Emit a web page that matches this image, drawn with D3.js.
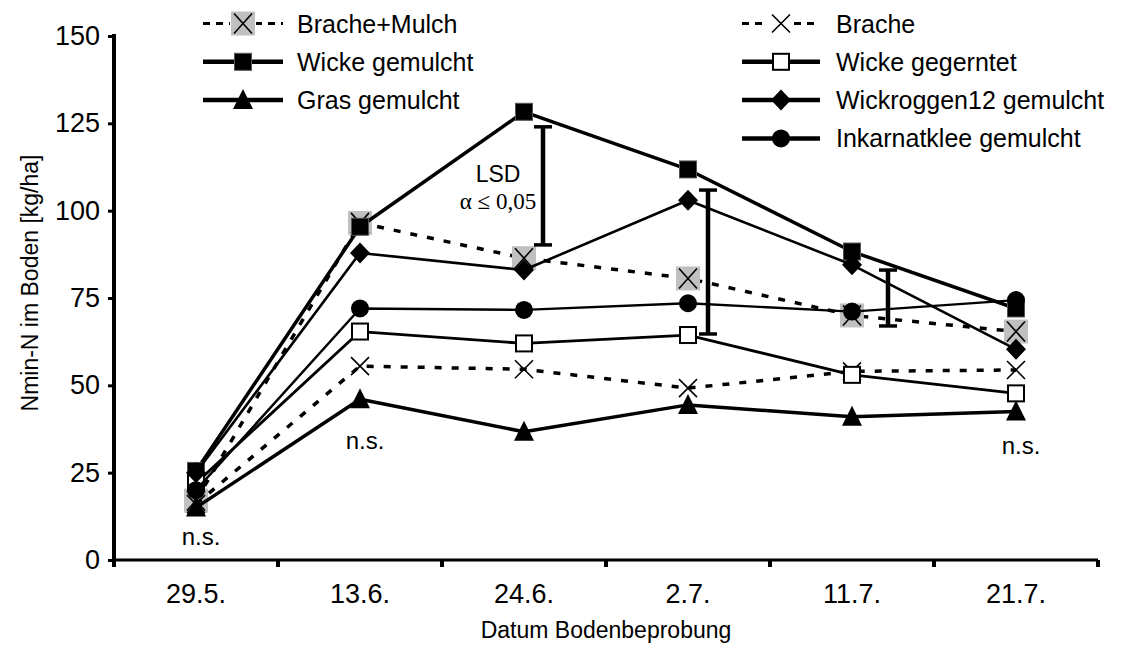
<!DOCTYPE html>
<html>
<head>
<meta charset="utf-8">
<script src="https://cdn.jsdelivr.net/npm/d3@7"></script>
<style>
  html, body { margin: 0; padding: 0; background: #fff; }
  svg { display: block; font-family: "Liberation Sans", Arial, sans-serif; }
</style>
</head>
<body>
<svg id="chart" width="1126" height="659"></svg>
<script>
// ---------- data ----------
const dates = ["29.5.", "13.6.", "24.6.", "2.7.", "11.7.", "21.7."];
const yTicks = [0, 25, 50, 75, 100, 125, 150];

const bracheMulch   = [17, 96.5, 86.4, 80.6, 70, 65.4];
const brache        = [16, 55.5, 54.6, 49.2, 54, 54.4];
const wickeMulch    = [25.5, 95.4, 128.3, 111.8, 88.3, 72];
const wickeErnte    = [22, 65.4, 62, 64.4, 53, 47.7];
const grasMulch     = [15, 46, 36.7, 44.4, 41, 42.5];
const wickroggen    = [25, 87.9, 83, 103, 84.5, 60.3];
const inkarnatklee  = [20, 72, 71.6, 73.5, 71.1, 74.4];

const seriesNames = ["Brache+Mulch", "Brache", "Wicke gemulcht", "Wicke gegerntet",
                     "Gras gemulcht", "Wickroggen12 gemulcht", "Inkarnatklee gemulcht"];

// LSD (alpha <= 0.05) bars: date, low, high
const lsdDates = ["24.6.", "2.7.", "11.7."];
const lsdLow   = [90.2, 64.7, 67];
const lsdHigh  = [124, 105.9, 83];
const nsDates  = ["29.5.", "13.6.", "21.7."];

// ---------- layout ----------
const svg = d3.select("#chart");
const X0 = 114, X1 = 1098, Y0 = 560, Y1 = 36;

const x = d3.scaleBand().domain(dates).range([X0, X1]);
const cx = d => x(d) + x.bandwidth() / 2;
const y = d3.scaleLinear().domain([0, 150]).range([Y0, Y1]);

const styles = {
  "Brache+Mulch":          {data: bracheMulch, dash: "7,10", w: 3.5, marker: "grayx"},
  "Brache":                {data: brache,      dash: "7,10", w: 3.5, marker: "x"},
  "Wicke gemulcht":        {data: wickeMulch,  dash: null,   w: 3.5, marker: "square"},
  "Wicke gegerntet":       {data: wickeErnte,  dash: null,   w: 2.8, marker: "opensquare"},
  "Gras gemulcht":         {data: grasMulch,   dash: null,   w: 3.5, marker: "triangle"},
  "Wickroggen12 gemulcht": {data: wickroggen,  dash: null,   w: 2.6, marker: "diamond"},
  "Inkarnatklee gemulcht": {data: inkarnatklee,dash: null,   w: 2.4, marker: "circle"}
};

function drawMarker(g, type, px, py) {
  if (type === "square") {
    g.append("rect").attr("x", px - 8.5).attr("y", py - 8.5).attr("width", 17).attr("height", 17)
      .attr("fill", "#000").attr("stroke", "#555").attr("stroke-width", 1);
  } else if (type === "opensquare") {
    g.append("rect").attr("x", px - 8).attr("y", py - 8).attr("width", 16).attr("height", 16)
      .attr("fill", "#fff").attr("stroke", "#000").attr("stroke-width", 2);
  } else if (type === "triangle") {
    g.append("path").attr("d", `M${px},${py - 11} L${px + 10},${py + 9} L${px - 10},${py + 9} Z`)
      .attr("fill", "#000");
  } else if (type === "diamond") {
    g.append("path").attr("d", `M${px},${py - 10.5} L${px + 10},${py} L${px},${py + 10.5} L${px - 10},${py} Z`)
      .attr("fill", "#000");
  } else if (type === "circle") {
    g.append("circle").attr("cx", px).attr("cy", py).attr("r", 9).attr("fill", "#000");
  } else if (type === "x") {
    g.append("path").attr("d", `M${px - 9},${py - 9} L${px + 9},${py + 9} M${px + 9},${py - 9} L${px - 9},${py + 9}`)
      .attr("stroke", "#000").attr("stroke-width", 1.6).attr("fill", "none");
  } else if (type === "grayx") {
    g.append("rect").attr("x", px - 12).attr("y", py - 12).attr("width", 24).attr("height", 24)
      .attr("fill", "#c0c0c0");
    g.append("path").attr("d", `M${px - 9},${py - 10} L${px + 9},${py + 10} M${px + 9},${py - 10} L${px - 9},${py + 10}`)
      .attr("stroke", "#000").attr("stroke-width", 1.6).attr("fill", "none");
  }
}

// ---------- series ----------
const line = d3.line().x((d, i) => cx(dates[i])).y(d => y(d));
const plotG = svg.append("g");
seriesNames.forEach(name => {
  const s = styles[name];
  const g = plotG.append("g");
  g.append("path").datum(s.data).attr("d", line)
    .attr("fill", "none").attr("stroke", "#000").attr("stroke-width", s.w)
    .attr("stroke-dasharray", s.dash).attr("stroke-linejoin", "round");
  s.data.forEach((v, i) => drawMarker(g, s.marker, cx(dates[i]), y(v)));
});

// ---------- axes ----------
const yAxis = d3.axisLeft(y).tickValues(yTicks).tickSize(6).tickPadding(8);
const gy = svg.append("g").attr("transform", `translate(${X0},0)`).call(yAxis);
gy.select(".domain").attr("stroke-width", 4).attr("d", `M0,${Y1 - 2}V${Y0 + 2}`);
gy.selectAll(".tick line").attr("stroke-width", 3);
gy.selectAll(".tick text").attr("font-size", 27).attr("font-family", "Liberation Sans, Arial, sans-serif").attr("fill", "#000");

const xAxis = d3.axisBottom(x).tickSize(0).tickPadding(24);
const gx = svg.append("g").attr("transform", `translate(0,${Y0})`).call(xAxis);
gx.select(".domain").attr("stroke-width", 3).attr("d", `M${X0},0H${X1}`);
gx.selectAll(".tick text").attr("font-size", 27).attr("font-family", "Liberation Sans, Arial, sans-serif").attr("fill", "#000");
// category boundary tick marks
gx.selectAll(".bound").data(d3.range(dates.length + 1)).join("line")
  .attr("class", "bound")
  .attr("x1", i => X0 + i * x.step()).attr("x2", i => X0 + i * x.step())
  .attr("y1", 0).attr("y2", 7).attr("stroke", "#000").attr("stroke-width", 4);

// axis titles
svg.append("text").attr("x", (X0 + X1) / 2).attr("y", 638).attr("text-anchor", "middle")
  .attr("font-size", 23).text("Datum Bodenbeprobung");
svg.append("text").attr("transform", `translate(38,283) rotate(-90)`)
  .attr("text-anchor", "middle").attr("font-size", 23).text("Nmin-N im Boden [kg/ha]");

// ---------- LSD bars ----------
const lsdOffset = [19, 20, 36];
lsdDates.forEach((d, i) => {
  const bx = cx(d) + lsdOffset[i];
  const g = svg.append("g").attr("stroke", "#000");
  g.append("line").attr("x1", bx).attr("x2", bx).attr("y1", y(lsdHigh[i])).attr("y2", y(lsdLow[i])).attr("stroke-width", 4.5);
  g.append("line").attr("x1", bx - 9).attr("x2", bx + 9).attr("y1", y(lsdHigh[i])).attr("y2", y(lsdHigh[i])).attr("stroke-width", 3.5);
  g.append("line").attr("x1", bx - 9).attr("x2", bx + 9).attr("y1", y(lsdLow[i])).attr("y2", y(lsdLow[i])).attr("stroke-width", 3.5);
});
svg.append("text").attr("x", 498).attr("y", 182).attr("text-anchor", "middle")
  .attr("font-size", 23).text("LSD");
svg.append("text").attr("x", 498).attr("y", 209).attr("text-anchor", "middle")
  .attr("font-family", "Liberation Serif, Times New Roman, serif").attr("font-size", 23).text("α ≤ 0,05");

// n.s. labels
const nsY = [545, 449, 454];
nsDates.forEach((d, i) => {
  svg.append("text").attr("x", cx(d) + 5).attr("y", nsY[i]).attr("text-anchor", "middle")
    .attr("font-size", 24).text("n.s.");
});

// ---------- legend ----------
const legendLeft = ["Brache+Mulch", "Wicke gemulcht", "Gras gemulcht"];
const legendRight = ["Brache", "Wicke gegerntet", "Wickroggen12 gemulcht", "Inkarnatklee gemulcht"];
function drawLegend(items, lx0, lx1, tx) {
  items.forEach((name, i) => {
    const s = styles[name];
    const ly = 23.5 + i * 38.3;
    const g = svg.append("g");
    const mx = (lx0 + lx1) / 2;
    if (s.dash) {
      g.append("line").attr("x1", lx0).attr("x2", lx1).attr("y1", ly).attr("y2", ly)
        .attr("stroke", "#000").attr("stroke-width", 3).attr("stroke-dasharray", "7,6");
      g.append("rect").attr("x", mx - 13).attr("y", ly - 13).attr("width", 26).attr("height", 26).attr("fill", "#fff");
    } else {
      g.append("line").attr("x1", lx0).attr("x2", lx1).attr("y1", ly).attr("y2", ly)
        .attr("stroke", "#000").attr("stroke-width", 4.5);
    }
    drawMarker(g, s.marker, mx, ly);
    g.append("text").attr("x", tx).attr("y", ly + 9).attr("font-size", 25).text(name);
  });
}
drawLegend(legendLeft, 203, 283, 297);
drawLegend(legendRight, 742, 820, 836);
</script>
</body>
</html>
